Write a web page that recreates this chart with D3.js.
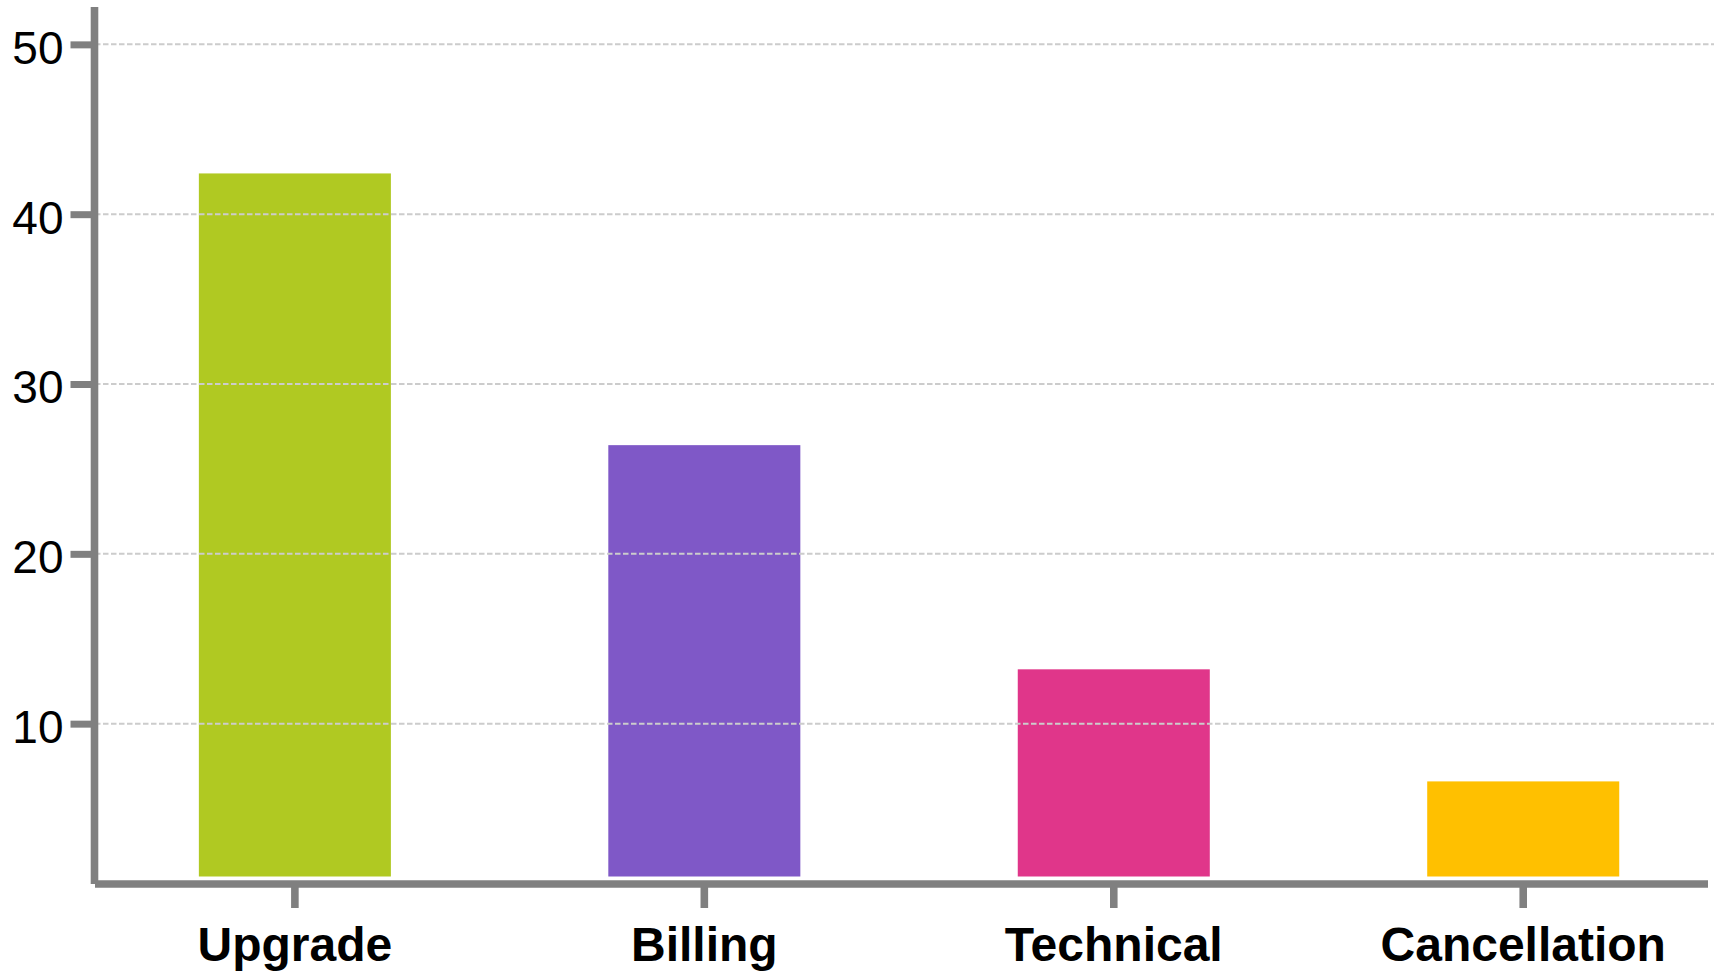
<!DOCTYPE html>
<html>
<head>
<meta charset="utf-8">
<script src="https://cdn.jsdelivr.net/npm/d3@7"></script>
<style>
  html, body { margin: 0; padding: 0; background: #ffffff; }
  svg { display: block; }
  text { font-family: "Liberation Sans", Arial, Helvetica, sans-serif; }
</style>
</head>
<body>
<svg id="chart" width="1714" height="975"></svg>
<script>
// Ticket counts by request type
const categories = ["Upgrade", "Billing", "Technical", "Cancellation"];
const values = [42.4, 26.4, 13.2, 6.6];
const barColors = ["#b0c922", "#7f58c7", "#e0368a", "#ffc000"];
const yTickValues = [10, 20, 30, 40, 50];

const W = 1714, H = 975;
const axisColor = "#808080";
const axisX = 94.5;      // centre of the vertical axis line
const axisY = 884;       // centre of the horizontal axis line
const axisWidth = 7.6;

const svg = d3.select("#chart");

const y = d3.scaleLinear()
  .domain([1, 52.2])
  .range([876.5, 7]);

const x = d3.scaleBand()
  .domain(categories)
  .range([96.5, 1721.6])
  .paddingInner(0.531)
  .paddingOuter(0.25);

const data = categories.map((c, i) => ({ cat: c, value: values[i], color: barColors[i] }));

// Bars
svg.append("g")
  .selectAll("rect")
  .data(data)
  .join("rect")
  .attr("x", d => x(d.cat))
  .attr("width", x.bandwidth())
  .attr("y", d => y(d.value))
  .attr("height", d => y(y.domain()[0]) - y(d.value))
  .attr("fill", d => d.color);

// Dashed horizontal gridlines, drawn above the bars
svg.append("g")
  .selectAll("line")
  .data(yTickValues)
  .join("line")
  .attr("x1", 87)
  .attr("x2", W)
  .attr("y1", d => y(d))
  .attr("y2", d => y(d))
  .attr("stroke", "#cccccc")
  .attr("stroke-width", 2)
  .attr("stroke-dasharray", "5.5,2.5");

// Left axis: ticks and labels
const yAxis = d3.axisLeft(y)
  .tickValues(yTickValues)
  .tickSize(24)
  .tickPadding(7)
  .tickFormat(d3.format("d"));

const gy = svg.append("g")
  .attr("transform", `translate(${axisX},0)`)
  .call(yAxis);
gy.select(".domain").remove();
gy.selectAll(".tick line")
  .attr("stroke", axisColor)
  .attr("stroke-width", 7);
gy.selectAll(".tick text")
  .attr("fill", "#000000")
  .attr("font-size", 46)
  .attr("font-family", "'Liberation Sans', Arial, Helvetica, sans-serif")
  .attr("dy", "0.41em");

// Bottom axis: ticks and labels
const xAxis = d3.axisBottom(x)
  .tickSize(24)
  .tickPadding(19);

const gx = svg.append("g")
  .attr("transform", `translate(0,${axisY})`)
  .call(xAxis);
gx.select(".domain").remove();
gx.selectAll(".tick line")
  .attr("stroke", axisColor)
  .attr("stroke-width", axisWidth);
gx.selectAll(".tick text")
  .attr("fill", "#000000")
  .attr("font-size", 48)
  .attr("font-weight", "bold")
  .attr("font-family", "'Liberation Sans', Arial, Helvetica, sans-serif")
  .attr("dy", "0.71em");

// Axis lines
svg.append("line")
  .attr("x1", axisX).attr("x2", axisX)
  .attr("y1", y.range()[1]).attr("y2", axisY)
  .attr("stroke", axisColor)
  .attr("stroke-width", axisWidth);

svg.append("line")
  .attr("x1", 95).attr("x2", 1708)
  .attr("y1", axisY).attr("y2", axisY)
  .attr("stroke", axisColor)
  .attr("stroke-width", axisWidth);
</script>
</body>
</html>
